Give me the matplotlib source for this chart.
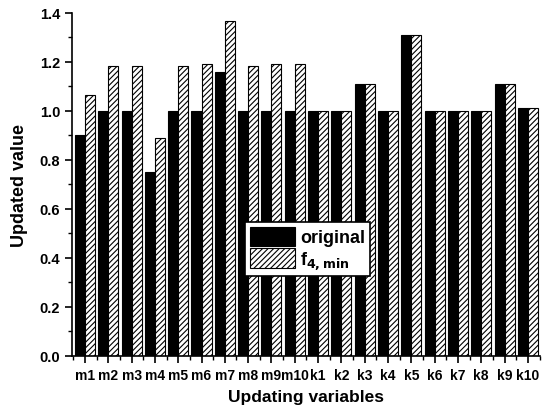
import matplotlib.pyplot as plt
import numpy as np
from matplotlib.ticker import MultipleLocator

plt.rcParams['font.family'] = ['Liberation Sans', 'DejaVu Sans']
plt.rcParams['font.weight'] = 'bold'
plt.rcParams['hatch.linewidth'] = 0.8

variables = ['m1', 'm2', 'm3', 'm4', 'm5', 'm6', 'm7', 'm8', 'm9', 'm10',
             'k1', 'k2', 'k3', 'k4', 'k5', 'k6', 'k7', 'k8', 'k9', 'k10']
original = [0.90, 1.00, 1.00, 0.752, 1.00, 1.00, 1.158, 1.00, 1.00, 1.00,
            1.00, 1.00, 1.108, 1.00, 1.31, 1.00, 1.00, 1.00, 1.108, 1.01]
f4_min = [1.065, 1.185, 1.185, 0.888, 1.185, 1.19, 1.367, 1.185, 1.19, 1.19,
          1.00, 1.00, 1.108, 1.00, 1.31, 1.00, 1.00, 1.00, 1.108, 1.01]

fig = plt.figure(figsize=(5.49, 4.10), dpi=100)
ax = fig.add_axes([0.131, 0.13, 0.853, 0.836])

x = np.arange(len(variables))
w = 0.43
ax.bar(x - w / 2, original, w, color='black', edgecolor='black', linewidth=0.8, label='original')
ax.bar(x + w / 2, f4_min, w, color='white', edgecolor='black', hatch='//////', linewidth=0.8,
       label=r'f$_{\mathbf{4,min}}$')

ax.set_xlim(-0.56, len(variables) - 0.47)
ax.set_ylim(0, 1.4)
ax.set_xticks(x)
ax.set_xticklabels(variables)
ax.xaxis.set_minor_locator(MultipleLocator(0.5))
ax.yaxis.set_major_locator(MultipleLocator(0.2))
ax.yaxis.set_minor_locator(MultipleLocator(0.1))
ax.yaxis.set_major_formatter(plt.FuncFormatter(lambda v, p: f'{v:.1f}'))
ax.tick_params(axis='both', which='major', labelsize=10.5, length=5, width=1.2)
ax.tick_params(axis='both', which='minor', length=3, width=1)
ax.tick_params(axis='x', labelsize=10, pad=4)

ax.spines['top'].set_visible(False)
ax.spines['right'].set_visible(False)
ax.spines['left'].set_linewidth(1.2)
ax.spines['bottom'].set_linewidth(1.2)

ax.set_xlabel('Updating variables', fontsize=12.5, fontweight='bold', labelpad=5)
ax.set_ylabel('Updated value', fontsize=13, fontweight='bold', labelpad=8)

leg = ax.legend(loc='upper left', bbox_to_anchor=(0.37, 0.39), fontsize=13, frameon=True,
                fancybox=False, edgecolor='black', framealpha=1, handlelength=2.5,
                handleheight=1.3, borderpad=0.25, labelspacing=0.1, handletextpad=0.3,
                borderaxespad=0)
leg.get_frame().set_linewidth(1.2)

fig.savefig('out.png', dpi=100)
